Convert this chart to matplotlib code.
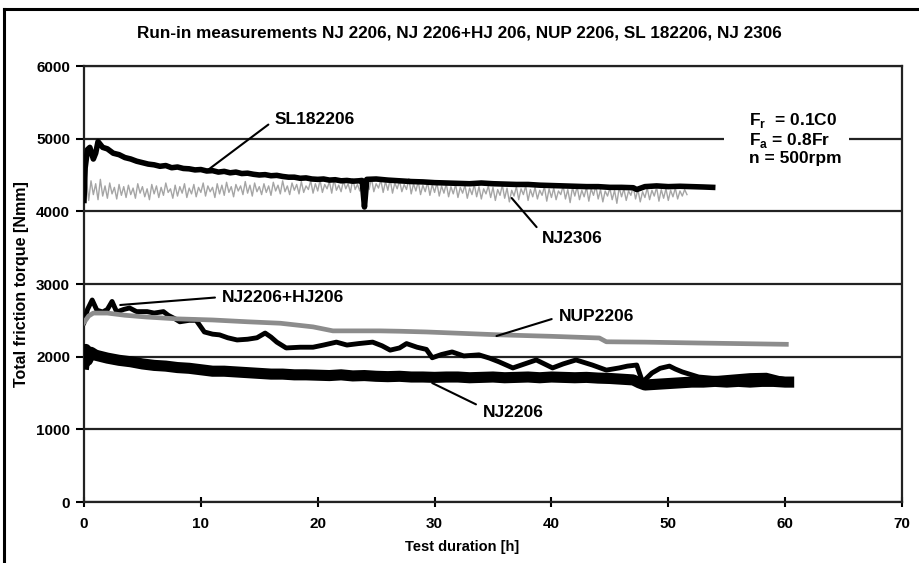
import numpy as np
import matplotlib
matplotlib.use("Agg")
import matplotlib.pyplot as plt
from matplotlib.lines import Line2D
from matplotlib.patches import Rectangle

plt.rcParams['font.family'] = ['Liberation Sans', 'DejaVu Sans']
plt.rcParams['font.weight'] = 'bold'
plt.rcParams['mathtext.fontset'] = 'custom'
plt.rcParams['mathtext.rm'] = 'Liberation Sans:bold'
plt.rcParams['mathtext.bf'] = 'Liberation Sans:bold'

TITLE = "Run-in measurements NJ 2206, NJ 2206+HJ 206, NUP 2206, SL 182206, NJ 2306"
X_LABEL = "Test duration [h]"
Y_LABEL = "Total friction torque [Nmm]"
X_TICKS = [0, 10, 20, 30, 40, 50, 60, 70]
Y_TICKS = [0, 1000, 2000, 3000, 4000, 5000, 6000]
CONDITIONS = "F$_\\mathbf{r}$  = 0.1C0\nF$_\\mathbf{a}$ = 0.8Fr\nn = 500rpm"

# SL182206 (black)
sl_t = [0, 0.1, 0.3, 0.5, 0.8, 1.0, 1.2, 1.6, 2.0, 2.5, 3.0, 3.5, 4.0, 4.5, 5.0, 5.5, 6.0, 6.5, 7.0,
        7.5, 8.0, 8.5, 9.0, 9.5, 10, 10.5, 11, 11.5, 12, 12.5, 13, 13.5, 14, 14.5, 15, 15.5, 16, 16.5,
        17, 17.5, 18, 18.5, 19, 19.5, 20, 20.5, 21, 21.5, 22, 22.5, 23, 23.5, 23.8, 24.0, 24.2, 25,
        26, 27, 28, 29, 30, 31, 32, 33, 34, 35, 36, 37, 38, 39, 40, 41, 42, 43, 44, 45, 46, 47,
        47.3, 48, 49, 50, 51, 52, 53, 53.8]
sl_v = [4150, 4600, 4850, 4880, 4720, 4800, 4960, 4880, 4860, 4800, 4780, 4740, 4720, 4690, 4670,
        4650, 4640, 4620, 4630, 4600, 4610, 4590, 4585, 4570, 4575, 4555, 4560, 4540, 4550, 4530,
        4540, 4520, 4525, 4510, 4500, 4505, 4490, 4495, 4480, 4470, 4470, 4455, 4460, 4445, 4440,
        4445, 4430, 4435, 4420, 4425, 4415, 4420, 4425, 4060, 4440, 4445, 4430, 4420, 4410, 4405,
        4395, 4390, 4385, 4380, 4390, 4380, 4375, 4370, 4370, 4360, 4355, 4350, 4345, 4340, 4340,
        4330, 4330, 4325, 4300, 4340, 4350, 4340, 4345, 4340, 4335, 4330]

# NJ2306 (light grey, noisy), sampled every 0.2 h from 0 to 51.6 h
nj2306_v = [4200, 4460, 4150, 4420, 4230, 4380, 4160, 4440, 4210, 4350,
            4180, 4390, 4240, 4330, 4170, 4370, 4220, 4340, 4190, 4360,
            4230, 4320, 4180, 4380, 4250, 4340, 4200, 4310, 4160, 4370,
            4240, 4350, 4190, 4330, 4220, 4390, 4260, 4310, 4180, 4360,
            4210, 4340, 4250, 4380, 4190, 4320, 4240, 4370, 4200, 4330,
            4260, 4390, 4210, 4350, 4270, 4330, 4190, 4380, 4240, 4360,
            4220, 4400, 4260, 4340, 4200, 4370, 4280, 4350, 4230, 4410,
            4250, 4360, 4210, 4390, 4270, 4340, 4230, 4380, 4260, 4350,
            4220, 4400, 4280, 4360, 4240, 4420, 4270, 4350, 4230, 4390,
            4290, 4370, 4240, 4410, 4260, 4350, 4300, 4420, 4250, 4380,
            4280, 4430, 4260, 4370, 4310, 4410, 4250, 4440, 4290, 4360,
            4270, 4420, 4310, 4380, 4260, 4450, 4300, 4370, 4280, 4430,
            4250, 4400, 4300, 4460, 4270, 4380, 4320, 4430, 4260, 4410,
            4290, 4440, 4250, 4390, 4310, 4420, 4270, 4370, 4300, 4450,
            4240, 4380, 4280, 4410, 4230, 4360, 4270, 4400, 4220, 4370,
            4260, 4390, 4210, 4350, 4250, 4380, 4200, 4340, 4240, 4370,
            4190, 4330, 4250, 4360, 4180, 4320, 4230, 4370, 4200, 4340,
            4170, 4310, 4240, 4350, 4190, 4330, 4150, 4300, 4220, 4360,
            4180, 4320, 4130, 4290, 4210, 4340, 4160, 4310, 4230, 4350,
            4150, 4300, 4200, 4330, 4170, 4290, 4220, 4340, 4140, 4310,
            4190, 4320, 4160, 4280, 4230, 4350, 4170, 4300, 4120, 4330,
            4210, 4340, 4160, 4290, 4200, 4330, 4140, 4310, 4220, 4350,
            4170, 4300, 4130, 4280, 4210, 4320, 4160, 4290, 4110, 4330,
            4200, 4310, 4150, 4280, 4220, 4340, 4170, 4300, 4130, 4270,
            4190, 4320, 4160, 4290, 4210, 4330, 4140, 4300, 4180, 4310,
            4150, 4290, 4200, 4320, 4170, 4280, 4210, 4300, 4230]
nj2306_t = np.linspace(0, 51.6, len(nj2306_v))

# NJ2206+HJ206 (black)
hj_t = [0, 0.3, 0.7, 1.1, 1.6, 2.0, 2.4, 2.8, 3.4, 3.9, 4.5, 5.4, 6.0, 6.8, 7.2, 7.8, 8.2, 9.0,
        9.6, 10.3, 11.0, 11.6, 12.3, 13.1, 14.0, 14.8, 15.5, 16.0, 16.5, 17.3, 18.5, 19.6, 20.5,
        21.6, 22.5, 23.5, 24.7, 25.5, 26.2, 27.0, 27.6, 28.5, 29.3, 29.8, 30.6, 31.5, 32.5, 33.8,
        34.7, 35.5, 36.7, 37.7, 38.7, 39.4, 40.1, 41.0, 42.1, 42.8, 43.5, 44.7, 45.8, 46.5, 47.3,
        47.8, 48.6, 49.3, 50.1, 50.6, 51.2, 52.6, 54.0, 55.5, 57.0, 58.4, 59.5, 60.2]
hj_v = [2470, 2650, 2780, 2640, 2615, 2650, 2760, 2615, 2650, 2670, 2620, 2620, 2600, 2620, 2570,
        2520, 2480, 2500, 2500, 2340, 2310, 2300, 2260, 2230, 2240, 2260, 2325, 2270, 2200, 2120,
        2130, 2130, 2160, 2200, 2160, 2180, 2200, 2150, 2090, 2120, 2180, 2130, 2100, 1985, 2030,
        2065, 2010, 2025, 1980, 1930, 1845, 1900, 1955, 1900, 1845, 1900, 1955, 1920, 1885, 1815,
        1845, 1870, 1885, 1650, 1775, 1840, 1870, 1830, 1790, 1720, 1700, 1720, 1740, 1745, 1700,
        1680]

# NUP2206 (grey)
nup_t = [0, 0.4, 0.8, 2.0, 3.5, 5.4, 8, 11, 14, 16.8, 19.6, 21.3, 25.3, 27, 29.3, 35.6, 40, 44.1,
         44.7, 48, 52.6, 56, 60.1]
nup_v = [2470, 2560, 2600, 2600, 2570, 2545, 2520, 2505, 2480, 2460, 2410, 2355, 2355, 2350, 2340,
         2300, 2280, 2257, 2205, 2200, 2188, 2180, 2170]

# NJ2206 (black, thick band)
nj_t = [0, 0.15, 0.3, 0.6, 1, 1.5, 2, 3, 4, 5, 6, 7, 8, 9, 10, 11, 12, 13, 14, 15, 16, 17, 18, 19,
        20, 21, 22, 23, 24, 25, 26, 27, 28, 29, 30, 31, 32, 33, 34, 35, 36, 37, 38, 39, 40, 41, 42,
        43, 44, 45, 46, 47, 47.5, 48, 49, 50, 51, 52, 53, 54, 55, 56, 57, 58, 59, 60, 60.3]
nj_v = [1900, 2100, 1950, 2060, 2020, 2000, 1980, 1950, 1930, 1900, 1880, 1870, 1850, 1840, 1820,
        1800, 1800, 1790, 1780, 1770, 1760, 1760, 1750, 1750, 1745, 1740, 1750, 1735, 1740, 1730,
        1725, 1730, 1720, 1720, 1715, 1720, 1720, 1710, 1715, 1720, 1710, 1715, 1720, 1710, 1720,
        1715, 1710, 1715, 1705, 1700, 1690, 1680, 1640, 1610, 1620, 1630, 1640, 1650, 1650, 1660,
        1650, 1660, 1650, 1660, 1660, 1650, 1650]

W, H = 919, 563
fig = plt.figure(figsize=(W / 100, H / 100), dpi=100)
ax = fig.add_axes([84 / W, 1 - 502 / H, (902 - 84) / W, (502 - 66) / H])

ax.plot(nj2306_t, nj2306_v, color='#a5a5a5', lw=1.0, zorder=3)
ax.plot(sl_t, sl_v, color='black', lw=4.0, zorder=4)
ax.plot(hj_t, hj_v, color='black', lw=3.5, zorder=4)
ax.plot(nup_t, nup_v, color='#8c8c8c', lw=3.4, zorder=5)
ax.plot(nj_t, nj_v, color='black', lw=8.0, zorder=4)

ax.set_xlim(0, 70)
ax.set_ylim(0, 6000)
ax.set_xticks(X_TICKS)
ax.set_yticks(Y_TICKS)
ax.grid(axis='y', color='#222222', lw=1.6)
ax.grid(axis='x', visible=False)
ax.set_axisbelow(True)
for s in ax.spines.values():
    s.set_linewidth(1.6)
    s.set_color('#222222')
ax.tick_params(axis='y', direction='out', length=6, width=1.5, labelsize=11, pad=4)
ax.tick_params(axis='x', direction='inout', length=7, width=1.5, labelsize=11, pad=7)

# conditions box
ax.add_patch(Rectangle((54.8, 4500), 10.7, 900, facecolor='white', edgecolor='none', zorder=6))
ax.text(56.9, 5000, CONDITIONS, fontsize=12.5, fontweight='bold', va='center', ha='left',
        linespacing=1.1, zorder=7)

ap = dict(arrowstyle='-', color='black', lw=1.5, shrinkA=3, shrinkB=0, relpos=(0, 0.5))
ax.annotate("SL182206", xy=(10.6, 4569), xytext=(16.3, 5257), fontsize=12.5, fontweight='bold',
            va='center', ha='left', arrowprops=ap, zorder=8)
ax.annotate("NJ2306", xy=(36.6, 4183), xytext=(39.2, 3633), fontsize=12.5, fontweight='bold',
            va='center', ha='left', arrowprops=dict(ap, relpos=(0, 0.8)), zorder=8)
ax.annotate("NJ2206+HJ206", xy=(3.1, 2711), xytext=(11.8, 2821), fontsize=12.5, fontweight='bold',
            va='center', ha='left', arrowprops=ap, zorder=8)
ax.annotate("NUP2206", xy=(35.3, 2284), xytext=(40.6, 2546), fontsize=12.5, fontweight='bold',
            va='center', ha='left', arrowprops=ap, zorder=8)
ax.annotate("NJ2206", xy=(29.8, 1637), xytext=(34.1, 1238), fontsize=12.5, fontweight='bold',
            va='center', ha='left', arrowprops=dict(ap, relpos=(0, 0.8)), zorder=8)

fig.text(459 / W, 1 - 33 / H, TITLE, fontsize=12.3, fontweight='bold', ha='center', va='center')
fig.text(462 / W, 1 - 547 / H, X_LABEL, fontsize=10.5, fontweight='bold', ha='center', va='center')
fig.text(22 / W, 1 - 284 / H, Y_LABEL, fontsize=11.5, fontweight='bold', ha='center', va='center',
         rotation=90)

# outer frame (left and top edges visible)
fig.add_artist(Line2D([4 / W, 4 / W], [0, 1 - 9 / H], color='black', lw=2.2))
fig.add_artist(Line2D([4 / W, 1], [1 - 9 / H, 1 - 9 / H], color='black', lw=2.2))

fig.savefig("out.png", dpi=100)
